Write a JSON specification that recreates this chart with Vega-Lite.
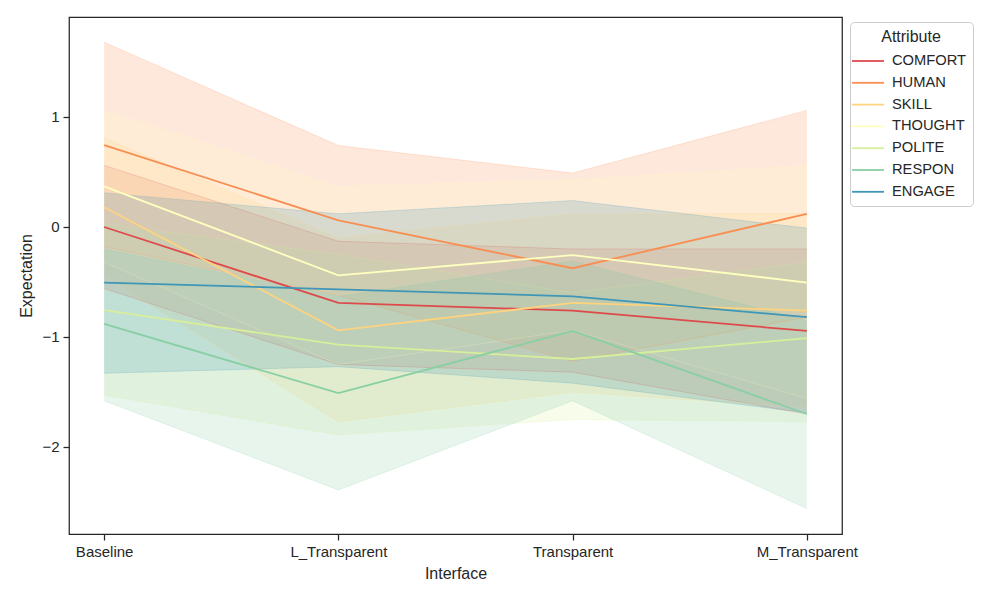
{
  "$schema": "https://vega.github.io/schema/vega-lite/v6.json",
  "width": 773,
  "height": 517,
  "autosize": {"type": "none"},
  "padding": {"left": 69, "top": 17, "right": 158, "bottom": 66},
  "background": "white",
  "config": {
    "font": "Liberation Sans",
    "view": {"stroke": "#262626", "strokeWidth": 1.25},
    "axis": {
      "domain": false,
      "grid": false,
      "ticks": true,
      "tickColor": "#262626",
      "tickWidth": 1.25,
      "tickSize": 6,
      "labelColor": "#262626",
      "labelFont": "Liberation Sans",
      "labelFontSize": 15,
      "titleColor": "#262626",
      "titleFont": "Liberation Sans",
      "titleFontSize": 16,
      "titleFontWeight": "normal"
    },
    "legend": {
      "orient": "none",
      "legendX": 781,
      "legendY": 5,
      "titleAnchor": "middle",
      "titleFont": "Liberation Sans",
      "titleFontSize": 16,
      "titleFontWeight": "normal",
      "titleColor": "#262626",
      "titlePadding": 5,
      "labelFont": "Liberation Sans",
      "labelFontSize": 14.7,
      "labelColor": "#262626",
      "labelOffset": 13,
      "symbolType": "M-1.6,0L1.6,0",
      "symbolSize": 400,
      "symbolStrokeWidth": 1.8,
      "symbolOpacity": 1,
      "rowPadding": 3.8,
      "strokeColor": "#cccccc",
      "fillColor": "white",
      "cornerRadius": 4,
      "padding": 7
    }
  },
  "data": {
    "values": [
      {"Attribute": "COMFORT", "Interface": "Baseline", "mean": 0.0, "lo": -0.56, "hi": 0.56},
      {"Attribute": "COMFORT", "Interface": "L_Transparent", "mean": -0.69, "lo": -1.25, "hi": -0.13},
      {"Attribute": "COMFORT", "Interface": "Transparent", "mean": -0.76, "lo": -1.32, "hi": -0.2},
      {"Attribute": "COMFORT", "Interface": "M_Transparent", "mean": -0.945, "lo": -1.7, "hi": -0.2},
      {"Attribute": "HUMAN", "Interface": "Baseline", "mean": 0.745, "lo": -0.18, "hi": 1.68},
      {"Attribute": "HUMAN", "Interface": "L_Transparent", "mean": 0.06, "lo": -0.62, "hi": 0.74},
      {"Attribute": "HUMAN", "Interface": "Transparent", "mean": -0.375, "lo": -1.22, "hi": 0.49},
      {"Attribute": "HUMAN", "Interface": "M_Transparent", "mean": 0.12, "lo": -0.82, "hi": 1.06},
      {"Attribute": "SKILL", "Interface": "Baseline", "mean": 0.18, "lo": -0.45, "hi": 0.81},
      {"Attribute": "SKILL", "Interface": "L_Transparent", "mean": -0.94, "lo": -1.77, "hi": -0.1},
      {"Attribute": "SKILL", "Interface": "Transparent", "mean": -0.69, "lo": -1.5, "hi": 0.12},
      {"Attribute": "SKILL", "Interface": "M_Transparent", "mean": -0.76, "lo": -1.64, "hi": 0.12},
      {"Attribute": "THOUGHT", "Interface": "Baseline", "mean": 0.37, "lo": -0.32, "hi": 1.06},
      {"Attribute": "THOUGHT", "Interface": "L_Transparent", "mean": -0.44, "lo": -1.25, "hi": 0.37},
      {"Attribute": "THOUGHT", "Interface": "Transparent", "mean": -0.255, "lo": -0.94, "hi": 0.43},
      {"Attribute": "THOUGHT", "Interface": "M_Transparent", "mean": -0.505, "lo": -1.56, "hi": 0.56},
      {"Attribute": "POLITE", "Interface": "Baseline", "mean": -0.755, "lo": -1.53, "hi": 0.03},
      {"Attribute": "POLITE", "Interface": "L_Transparent", "mean": -1.07, "lo": -1.89, "hi": -0.25},
      {"Attribute": "POLITE", "Interface": "Transparent", "mean": -1.2, "lo": -1.75, "hi": -0.6},
      {"Attribute": "POLITE", "Interface": "M_Transparent", "mean": -1.01, "lo": -1.77, "hi": -0.32},
      {"Attribute": "RESPON", "Interface": "Baseline", "mean": -0.88, "lo": -1.58, "hi": -0.2},
      {"Attribute": "RESPON", "Interface": "L_Transparent", "mean": -1.51, "lo": -2.39, "hi": -0.63},
      {"Attribute": "RESPON", "Interface": "Transparent", "mean": -0.945, "lo": -1.58, "hi": -0.31},
      {"Attribute": "RESPON", "Interface": "M_Transparent", "mean": -1.7, "lo": -2.56, "hi": -0.85},
      {"Attribute": "ENGAGE", "Interface": "Baseline", "mean": -0.505, "lo": -1.33, "hi": 0.31},
      {"Attribute": "ENGAGE", "Interface": "L_Transparent", "mean": -0.567, "lo": -1.27, "hi": 0.12},
      {"Attribute": "ENGAGE", "Interface": "Transparent", "mean": -0.63, "lo": -1.42, "hi": 0.24},
      {"Attribute": "ENGAGE", "Interface": "M_Transparent", "mean": -0.82, "lo": -1.69, "hi": -0.01}
    ]
  },
  "encoding": {
    "x": {
      "field": "Interface",
      "type": "nominal",
      "sort": ["Baseline", "L_Transparent", "Transparent", "M_Transparent"],
      "scale": {"type": "point", "padding": 0.15},
      "axis": {"labelAngle": 0, "labelPadding": 4, "titlePadding": 6, "title": "Interface"}
    },
    "color": {
      "field": "Attribute",
      "type": "nominal",
      "title": "Attribute",
      "scale": {
        "domain": ["COMFORT", "HUMAN", "SKILL", "THOUGHT", "POLITE", "RESPON", "ENGAGE"],
        "range": ["#dd4a4c", "#f88e52", "#fdd380", "#ffffbf", "#d7ef9b", "#88cfa4", "#3f96b7"]
      }
    }
  },
  "layer": [
    {
      "mark": {"type": "area", "opacity": 0.2},
      "encoding": {
        "y": {
          "field": "lo",
          "type": "quantitative",
          "scale": {"domain": [-2.791, 1.909], "nice": false, "zero": false},
          "axis": {"values": [-2, -1, 0, 1], "format": "d", "labelPadding": 4, "titlePadding": 7, "title": "Expectation"}
        },
        "y2": {"field": "hi"}
      }
    },
    {
      "mark": {"type": "line", "strokeWidth": 1, "opacity": 0.2},
      "encoding": {
        "y": {"field": "lo", "type": "quantitative"}
      }
    },
    {
      "mark": {"type": "line", "strokeWidth": 1, "opacity": 0.2},
      "encoding": {
        "y": {"field": "hi", "type": "quantitative"}
      }
    },
    {
      "mark": {"type": "line", "strokeWidth": 1.8},
      "encoding": {
        "y": {"field": "mean", "type": "quantitative"}
      }
    }
  ]
}
